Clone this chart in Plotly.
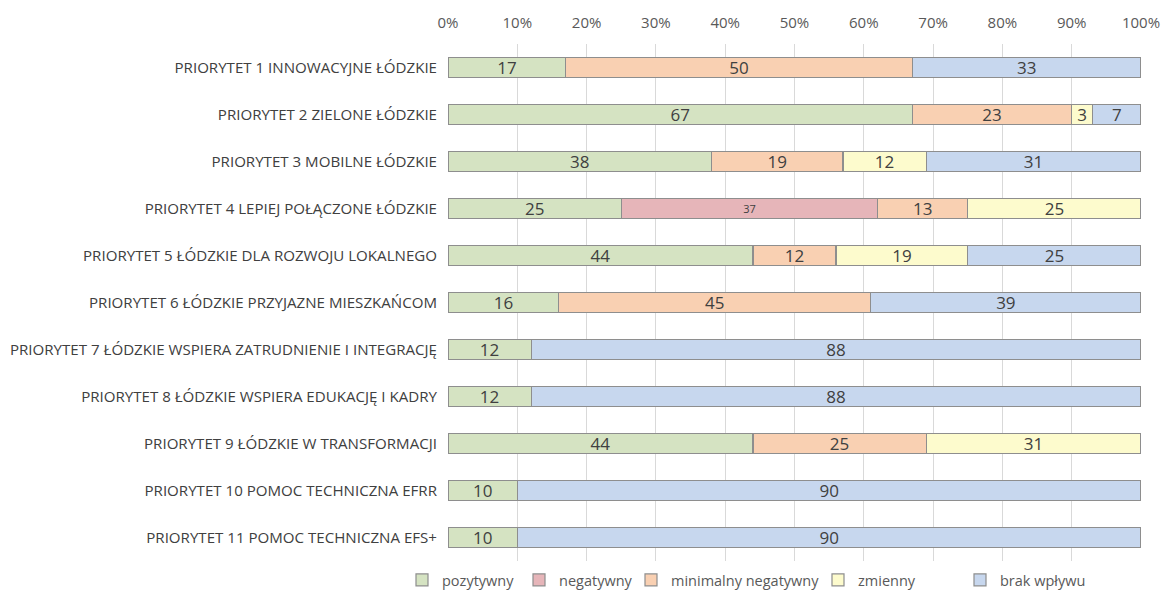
import plotly.graph_objects as go

categories = [
    "PRIORYTET 1 INNOWACYJNE ŁÓDZKIE",
    "PRIORYTET 2 ZIELONE ŁÓDZKIE",
    "PRIORYTET 3 MOBILNE ŁÓDZKIE",
    "PRIORYTET 4 LEPIEJ POŁĄCZONE ŁÓDZKIE",
    "PRIORYTET 5 ŁÓDZKIE DLA ROZWOJU LOKALNEGO",
    "PRIORYTET 6 ŁÓDZKIE PRZYJAZNE MIESZKAŃCOM",
    "PRIORYTET 7 ŁÓDZKIE WSPIERA ZATRUDNIENIE I INTEGRACJĘ",
    "PRIORYTET 8 ŁÓDZKIE WSPIERA EDUKACJĘ I KADRY",
    "PRIORYTET 9 ŁÓDZKIE W TRANSFORMACJI",
    "PRIORYTET 10 POMOC TECHNICZNA EFRR",
    "PRIORYTET 11 POMOC TECHNICZNA EFS+",
]

pozytywny = [17, 67, 38, 25, 44, 16, 12, 12, 44, 10, 10]
negatywny = [None, None, None, 37, None, None, None, None, None, None, None]
minimalny_negatywny = [50, 23, 19, 13, 12, 45, None, None, 25, None, None]
zmienny = [None, 3, 12, 25, 19, None, None, None, 31, None, None]
brak_wplywu = [33, 7, 31, None, 25, 39, 88, 88, None, 90, 90]

# name, values, fill colour, label size, legend id, legend x (px)
series = [
    ("pozytywny", pozytywny, "#d5e3c2", 17, "legend", 402),
    ("negatywny", negatywny, "#e6b5b9", 11, "legend2", 519),
    ("minimalny negatywny", minimalny_negatywny, "#f9d0b2", 17, "legend3", 631),
    ("zmienny", zmienny, "#fdfbcd", 17, "legend4", 818),
    ("brak wpływu", brak_wplywu, "#c7d7ee", 17, "legend5", 960),
]

FONT = "Open Sans, Calibri, sans-serif"
TXT = "#404040"
W, H = 1161, 592

fig = go.Figure()
legends = {}
for name, vals, color, tsize, leg, lx in series:
    fig.add_trace(go.Bar(
        name=name,
        y=categories,
        x=vals,
        orientation="h",
        legend=leg,
        marker=dict(color=color, line=dict(color="#8e8e8e", width=1.2)),
        width=0.43,
        text=[("" if v is None else str(v)) for v in vals],
        textposition="inside",
        insidetextanchor="middle",
        textangle=0,
        constraintext="none",
        textfont=dict(family=FONT, size=tsize, color=TXT),
        hovertemplate="%{y}<br>" + name + ": %{x}<extra></extra>",
    ))
    legends[leg] = dict(
        orientation="h",
        x=lx / W, y=(H - 580) / H,
        xref="container", yref="container",
        xanchor="left", yanchor="middle",
        font=dict(family=FONT, size=14.5, color="#595959"),
        itemwidth=30,
        bgcolor="rgba(0,0,0,0)",
    )

fig.update_layout(
    barmode="stack",
    width=W,
    height=H,
    margin=dict(l=448, r=20, t=44, b=31, autoexpand=False),
    plot_bgcolor="white",
    paper_bgcolor="white",
    font=dict(family=FONT, color="#595959", size=14),
    showlegend=True,
    xaxis=dict(
        range=[0, 100],
        dtick=10,
        ticksuffix="%",
        side="top",
        automargin=False,
        showgrid=True,
        gridcolor="#d9d9d9",
        gridwidth=1,
        zeroline=False,
        showline=False,
        ticks="",
        ticklabelstandoff=12,
        tickfont=dict(family=FONT, size=15, color="#595959"),
        fixedrange=True,
    ),
    yaxis=dict(
        autorange="reversed",
        automargin=False,
        showgrid=False,
        showline=False,
        ticks="",
        ticklabelstandoff=10,
        tickfont=dict(family=FONT, size=15.1, color=TXT),
    ),
    bargap=0.57,
    **legends,
)

fig.write_html("out.html")
